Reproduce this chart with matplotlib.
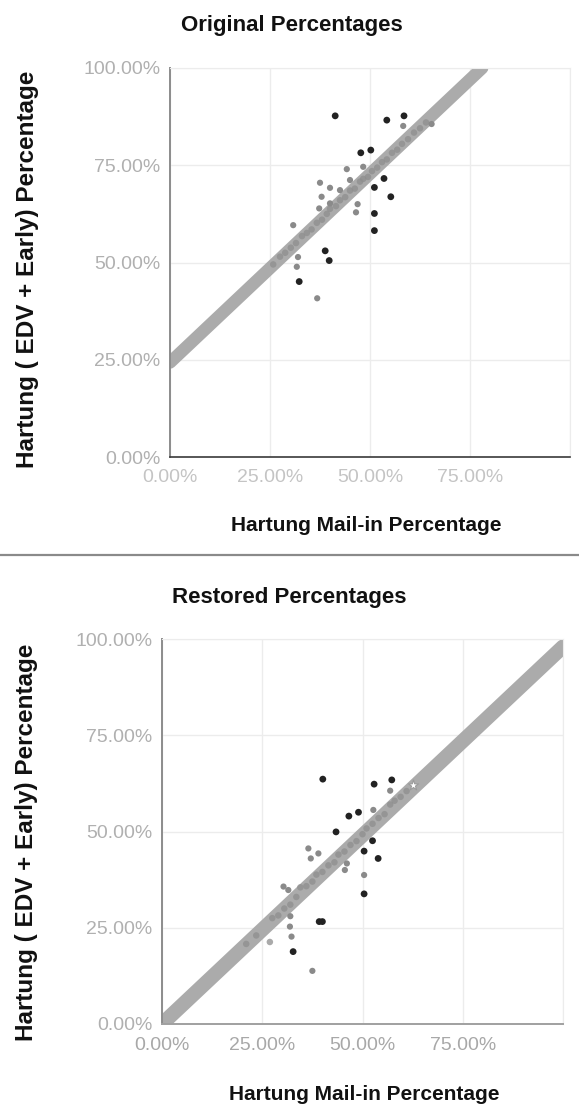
import matplotlib
matplotlib.use("Agg")
import matplotlib.pyplot as plt
from matplotlib.lines import Line2D
from matplotlib.ticker import FuncFormatter

plt.rcParams['font.family'] = ['Liberation Sans', 'DejaVu Sans']

# ---- Original percentages (mail-in %, EDV+early %) ----
orig_dark_x = [41.3, 54.2, 58.5, 47.7, 50.2, 53.5, 51.1, 55.2, 51.1, 51.1, 38.8, 39.8, 32.3]
orig_dark_y = [87.7, 86.6, 87.7, 78.2, 78.9, 71.6, 69.3, 66.9, 62.6, 58.2, 53.0, 50.5, 45.1]

orig_gray_x = [36.8, 65.4, 44.2, 37.5, 40.0, 37.9, 46.9, 46.5, 37.3, 30.8, 31.7, 32.0, 58.3,
               40.0, 42.5, 45.0, 48.3]
orig_gray_y = [40.8, 85.6, 74.0, 70.5, 69.2, 66.9, 65.0, 62.9, 63.9, 59.6, 48.9, 51.4, 85.1,
               65.2, 68.6, 71.2, 74.6]

orig_line_x = [25.8, 27.5, 28.8, 30.2, 31.5, 33.0, 34.2, 35.4, 36.7, 38.0, 39.2, 40.0, 41.5,
               42.5, 43.8, 45.0, 46.2, 47.5, 48.3, 49.5, 50.5, 51.8, 53.0, 54.2, 55.5, 56.8,
               58.0, 59.5, 61.0, 62.5, 64.0]
orig_line_y = [49.5, 51.5, 52.5, 53.8, 55.0, 56.8, 57.6, 58.5, 60.2, 61.0, 62.5, 63.8, 64.5,
               66.0, 66.8, 68.5, 69.0, 70.8, 71.5, 72.0, 73.5, 74.4, 75.8, 76.5, 78.2, 79.0,
               80.5, 81.7, 83.4, 84.5, 86.0]

orig_trend_slope = 0.97
orig_trend_intercept = 24.3

# ---- Restored percentages ----
rest_dark_x = [40.1, 52.9, 57.3, 46.6, 49.0, 43.4, 52.5, 50.4, 53.9, 50.4, 39.2, 40.0, 32.7]
rest_dark_y = [63.6, 62.3, 63.4, 54.0, 55.0, 49.9, 47.6, 44.9, 43.0, 33.8, 26.6, 26.6, 18.8]

rest_gray_x = [37.5, 50.4, 36.5, 39.0, 37.1, 46.1, 45.6, 30.3, 31.5, 31.9, 32.3, 32.0, 52.7, 56.9]
rest_gray_y = [13.8, 38.7, 45.6, 44.3, 43.0, 41.7, 40.0, 35.7, 34.8, 25.3, 22.7, 28.0, 55.6, 60.6]

rest_line_x = [21.0, 23.5, 26.9, 27.5, 29.0, 30.5, 32.0, 33.5, 34.5, 36.0, 37.5, 38.5, 40.0,
               41.5, 43.0, 44.0, 45.5, 47.0, 48.5, 50.0, 51.0, 52.5, 54.0, 55.5, 56.9, 58.0,
               59.5, 61.0]
rest_line_y = [20.8, 23.0, 21.3, 27.5, 28.2, 30.0, 31.0, 33.0, 35.5, 35.8, 37.0, 38.8, 39.5,
               41.2, 42.0, 44.0, 44.8, 46.5, 47.5, 49.3, 50.8, 52.0, 53.5, 54.5, 57.0, 58.0,
               59.0, 60.5]

rest_star_x = [62.5]
rest_star_y = [62.1]

rest_trend_slope = 0.98
rest_trend_intercept = 0.0

tick_values = [0, 25, 50, 75, 100]
x_tick_values = [0, 25, 50, 75]
x_label = "Hartung Mail-in Percentage"
y_label = "Hartung ( EDV + Early) Percentage"

W, H = 579, 1112
fig = plt.figure(figsize=(W / 100, H / 100), dpi=100)
fig.patch.set_facecolor('white')


def px_axes(left, top, right, bottom):
    return fig.add_axes([left / W, 1 - bottom / H, (right - left) / W, (bottom - top) / H])


pct = FuncFormatter(lambda v, p: f"{v:.2f}%")


def style_axes(ax, xtick_color, bottom_spine_color, bottom_lw):
    ax.set_xlim(0, 100)
    ax.set_ylim(0, 100)
    ax.set_yticks(tick_values)
    ax.set_xticks(x_tick_values)
    ax.xaxis.set_major_formatter(pct)
    ax.yaxis.set_major_formatter(pct)
    for v in tick_values:
        ax.axhline(v, color='#ececec', lw=1.0, zorder=0)
        ax.axvline(v, color='#ececec', lw=1.0, zorder=0)
    ax.grid(False)
    ax.tick_params(length=0, labelsize=14)
    ax.tick_params(axis='y', colors='#b0b0b0', pad=7)
    ax.tick_params(axis='x', colors=xtick_color, pad=9)
    ax.spines['left'].set_color('#8c8c8c')
    ax.spines['left'].set_linewidth(1.4)
    ax.spines['bottom'].set_color(bottom_spine_color)
    ax.spines['bottom'].set_linewidth(bottom_lw)
    ax.spines['top'].set_color('#ececec')
    ax.spines['right'].set_color('#ececec')


def draw_panel(ax, trend_slope, trend_intercept, trend_lw, line_x, line_y,
               gray_x, gray_y, dark_x, dark_y):
    x_end = min(100.0, (100.0 - trend_intercept) / trend_slope)
    tx = [0.0, x_end]
    ty = [trend_intercept + trend_slope * v for v in tx]
    ax.plot(tx, ty, color='#ababab', lw=trend_lw, solid_capstyle='round', zorder=1)
    ax.scatter(line_x, line_y, s=22, color='#8e8e8e', alpha=0.75, edgecolors='none', zorder=2)
    ax.scatter(gray_x, gray_y, s=20, color='#8a8a8a', edgecolors='none', zorder=3)
    ax.scatter(dark_x, dark_y, s=24, color='#222222', edgecolors='none', zorder=4)


# Top panel
ax1 = px_axes(170, 68, 570, 457)
style_axes(ax1, '#c4c4c4', '#3a3a3a', 1.2)
draw_panel(ax1, orig_trend_slope, orig_trend_intercept, 9, orig_line_x, orig_line_y,
           orig_gray_x, orig_gray_y, orig_dark_x, orig_dark_y)

# Bottom panel
ax2 = px_axes(162, 639, 563, 1024)
style_axes(ax2, '#a8a8a8', '#a0a0a0', 1.4)
draw_panel(ax2, rest_trend_slope, rest_trend_intercept, 10.5, rest_line_x, rest_line_y,
           rest_gray_x, rest_gray_y, rest_dark_x, rest_dark_y)
ax2.scatter(rest_star_x, rest_star_y, s=60, marker='*', color='white',
            edgecolors='#9a9a9a', linewidths=0.8, zorder=5)

label_font = dict(fontsize=15, fontweight='bold', color='#111111')
ylabel_font = dict(fontsize=17.5, fontweight='bold', color='#111111')

for ax, (xl_x, xl_y), (yl_x, yl_y) in [
    (ax1, (0.49, -0.175), (-0.357, 0.483)),
    (ax2, (0.504, -0.184), (-0.337, 0.473)),
]:
    ax.set_xlabel(x_label, **label_font)
    ax.set_ylabel(y_label, **ylabel_font)
    ax.xaxis.set_label_coords(xl_x, xl_y)
    ax.yaxis.set_label_coords(yl_x, yl_y)
    ax.xaxis.label.set_va('center')
    ax.yaxis.label.set_va('center')

fig.text(292 / W, 1 - 25 / H, "Original Percentages", ha='center', va='center',
         fontsize=16, fontweight='bold', color='#111111')
fig.text(289 / W, 1 - 598 / H, "Restored Percentages", ha='center', va='center',
         fontsize=16, fontweight='bold', color='#111111')

sep_y = 1 - 555 / H
fig.add_artist(Line2D([0, 1], [sep_y, sep_y], transform=fig.transFigure,
                      color='#8a8a8a', lw=1.6))

fig.savefig("out.png", dpi=100, facecolor='white')
